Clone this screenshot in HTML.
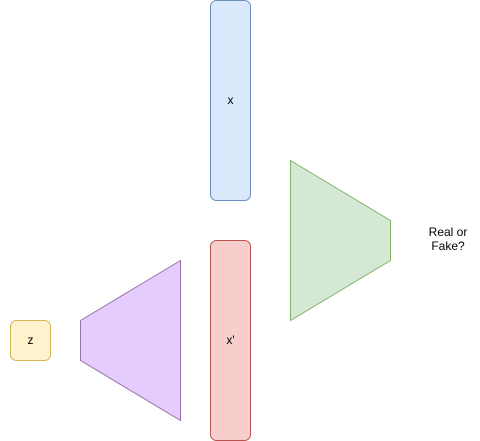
<!DOCTYPE html>
<html><head><meta charset="utf-8"><style>
html,body{margin:0;padding:0;background:#fff;width:480px;height:441px;overflow:hidden}
svg{display:block}
text{font-family:"Liberation Sans",Helvetica,Arial,sans-serif;font-size:12px;fill:#000}
</style></head><body>
<svg width="480" height="441" viewBox="0 0 480 441">
<rect x="210.5" y="0.5" width="40" height="200" rx="6" fill="#dae8fc" stroke="#6c8ebf"/>
<text x="230.5" y="104" text-anchor="middle">x</text>
<rect x="210.5" y="240.5" width="40" height="200" rx="6" fill="#f8cecc" stroke="#b85450"/>
<text x="230.5" y="344" text-anchor="middle">x'</text>
<polygon points="290.5,160.5 390.5,220.5 390.5,260.5 290.5,320.5" fill="#d5e8d4" stroke="#82b366"/>
<polygon points="180.5,260.5 80.5,320.5 80.5,360.5 180.5,420.5" fill="#e5ccff" stroke="#9673a6"/>
<rect x="10.5" y="320.5" width="40" height="40" rx="6" fill="#fff2cc" stroke="#d6b656"/>
<text x="30.5" y="344" text-anchor="middle">z</text>
<text x="448" y="236" text-anchor="middle">Real or</text>
<text x="448" y="250" text-anchor="middle">Fake?</text>
</svg>
</body></html>
